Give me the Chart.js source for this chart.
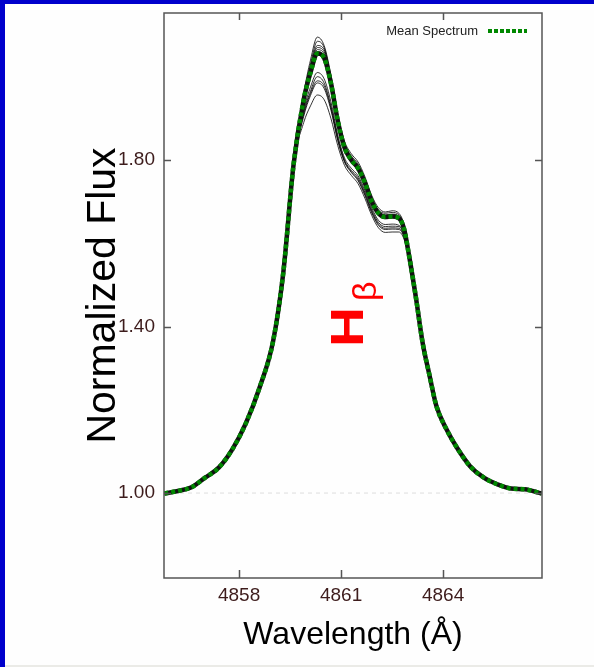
<!DOCTYPE html>
<html>
<head>
<meta charset="utf-8">
<title>H-beta line profile</title>
<script src="https://cdn.jsdelivr.net/npm/chart.js@4.4.1/dist/chart.umd.min.js"></script>
<style>
    body { margin: 0; background: #fefefe; }
    #wrap { position: relative; width: 594px; height: 667px; overflow: hidden; }
    #fluxChart { position: absolute; left: 0; top: 0; }
    .bar-left { position: absolute; left: 0; top: 0; width: 5px; height: 667px; background: #0000cc; }
    .bar-top { position: absolute; left: 0; top: 0; width: 594px; height: 4px; background: #0000cc; }
    .bar-bottom { position: absolute; left: 5px; bottom: 0; width: 589px; height: 2px; background: #ebebe7; }
</style>
</head>
<body>
<div id="wrap">
    <canvas id="fluxChart" width="594" height="667"></canvas>
    <div class="bar-left"></div>
    <div class="bar-top"></div>
    <div class="bar-bottom"></div>
</div>
<script>
// wavelength grid (Angstrom)
const wavelength = [4855.8, 4856.2, 4856.6, 4857.0, 4857.4, 4857.8, 4858.2, 4858.6, 4859.0, 4859.3, 4859.6,
    4859.9, 4860.1, 4860.3, 4860.5, 4860.7, 4860.9, 4861.1, 4861.3, 4861.5, 4861.7, 4861.9, 4862.1, 4862.3,
    4862.5, 4862.7, 4862.85, 4863.0,
    4863.2, 4863.4, 4863.6, 4863.8, 4864.1, 4864.4, 4864.8, 4865.2, 4865.6, 4866.0, 4866.4, 4866.9];

// wings are the same for every spectrum
const blueWing = [0.999, 1.005, 1.014, 1.037, 1.061, 1.105, 1.168, 1.253, 1.365, 1.53, 1.788];
const redWing = [1.47, 1.36, 1.283, 1.21, 1.153, 1.11, 1.064, 1.037, 1.021, 1.011, 1.009, 0.999];

// line core, 4859.9 - 4863.0
const meanCore = [1.945, 2.01, 2.056, 2.045, 1.985, 1.895, 1.83, 1.80, 1.78, 1.745, 1.70, 1.672, 1.663, 1.664, 1.66, 1.635, 1.57];
const spectraCores = [
    [1.96, 2.04, 2.095, 2.075, 2.005, 1.91, 1.845, 1.815, 1.795, 1.76, 1.715, 1.685, 1.675, 1.678, 1.672, 1.645, 1.575],
    [1.955, 2.03, 2.085, 2.07, 2.0, 1.905, 1.84, 1.81, 1.79, 1.755, 1.71, 1.68, 1.672, 1.674, 1.668, 1.642, 1.573],
    [1.955, 2.025, 2.075, 2.065, 1.995, 1.9, 1.835, 1.805, 1.785, 1.75, 1.705, 1.677, 1.668, 1.67, 1.665, 1.64, 1.572],
    [1.95, 2.02, 2.07, 2.06, 1.99, 1.898, 1.833, 1.803, 1.783, 1.748, 1.703, 1.675, 1.666, 1.668, 1.664, 1.638, 1.571],
    [1.95, 2.015, 2.065, 2.055, 1.99, 1.9, 1.835, 1.805, 1.785, 1.75, 1.705, 1.676, 1.667, 1.668, 1.663, 1.637, 1.57],
    [1.945, 2.01, 2.06, 2.05, 1.985, 1.895, 1.83, 1.8, 1.78, 1.745, 1.7, 1.672, 1.663, 1.665, 1.66, 1.635, 1.57],
    [1.945, 2.005, 2.055, 2.045, 1.98, 1.89, 1.827, 1.797, 1.778, 1.742, 1.698, 1.67, 1.66, 1.662, 1.658, 1.633, 1.569],
    [1.92, 1.975, 2.01, 1.995, 1.94, 1.86, 1.805, 1.78, 1.762, 1.727, 1.685, 1.655, 1.645, 1.646, 1.643, 1.622, 1.565],
    [1.915, 1.965, 2.0, 1.985, 1.93, 1.855, 1.8, 1.775, 1.757, 1.722, 1.68, 1.65, 1.64, 1.641, 1.64, 1.62, 1.563],
    [1.91, 1.96, 1.99, 1.978, 1.925, 1.85, 1.797, 1.772, 1.753, 1.718, 1.676, 1.646, 1.636, 1.637, 1.636, 1.617, 1.562],
    [1.905, 1.955, 1.985, 1.972, 1.92, 1.847, 1.795, 1.77, 1.75, 1.715, 1.673, 1.643, 1.633, 1.634, 1.633, 1.615, 1.561],
    [1.89, 1.93, 1.956, 1.945, 1.9, 1.835, 1.787, 1.763, 1.743, 1.708, 1.667, 1.637, 1.626, 1.627, 1.627, 1.61, 1.56]
];

const xTicks = [4858, 4861, 4864];
const yTicks = [1.00, 1.40, 1.80];
const xRange = [4855.79, 4866.91];
const yRange = [0.796, 2.153];
const continuumLevel = 1.00;

// label position in data units (baseline of the rotated "H")
const lineLabel = { text: 'H', sub: '\u03B2', x: 4861.65, y: 1.351 };

const tickColor = '#3d1c1c';
const fontFamily = "'Liberation Sans', Arial, sans-serif";

function toPoints(flux) {
    return wavelength.map((w, i) => ({ x: w, y: flux[i] }));
}

const meanFlux = blueWing.concat(meanCore, redWing);

const datasets = [];
datasets.push({
    label: 'Mean Spectrum',
    data: toPoints(meanFlux),
    borderColor: '#008800',
    borderWidth: 4.5,
    borderDash: [4, 3],
    order: 0
});
// dark backing under the dotted mean
datasets.push({
    label: 'backing',
    data: toPoints(meanFlux),
    borderColor: '#111',
    borderWidth: 4.5,
    order: 1
});
spectraCores.forEach((core, i) => {
    datasets.push({
        label: 'spectrum ' + (i + 1),
        data: toPoints(blueWing.concat(core, redWing)),
        borderColor: 'rgba(0, 0, 0, 0.8)',
        borderWidth: 1,
        order: 2
    });
});
datasets.push({
    label: 'continuum',
    data: [{ x: xRange[0], y: continuumLevel }, { x: xRange[1], y: continuumLevel }],
    borderColor: '#dddddd',
    borderWidth: 1,
    borderDash: [4, 4],
    cubicInterpolationMode: 'default',
    order: 3
});

const frameAndTicks = {
    id: 'frameAndTicks',
    afterDatasetsDraw(chart) {
        const { ctx, chartArea: a, scales: { x, y } } = chart;
        ctx.save();
        ctx.strokeStyle = '#555';
        ctx.lineWidth = 1.5;
        ctx.strokeRect(a.left, a.top, a.width, a.height);
        ctx.beginPath();
        xTicks.forEach(v => {
            const px = Math.round(x.getPixelForValue(v)) + 0.5;
            ctx.moveTo(px, a.top); ctx.lineTo(px, a.top + 7);
            ctx.moveTo(px, a.bottom); ctx.lineTo(px, a.bottom - 8);
        });
        yTicks.forEach(v => {
            const py = Math.round(y.getPixelForValue(v)) + 0.5;
            ctx.moveTo(a.left, py); ctx.lineTo(a.left + 7, py);
            ctx.moveTo(a.right, py); ctx.lineTo(a.right - 7, py);
        });
        ctx.stroke();
        ctx.restore();
    }
};

const labelsPlugin = {
    id: 'labelsPlugin',
    afterDraw(chart) {
        const { ctx, chartArea: a, scales: { x, y } } = chart;
        ctx.save();
        // H-beta, rotated
        ctx.translate(x.getPixelForValue(lineLabel.x), y.getPixelForValue(lineLabel.y));
        ctx.rotate(-Math.PI / 2);
        ctx.fillStyle = '#ff0000';
        ctx.textBaseline = 'alphabetic';
        ctx.textAlign = 'left';
        ctx.save();
        ctx.scale(1.2, 1);
        ctx.font = 'bold 46px ' + fontFamily;
        ctx.fillText(lineLabel.text, 0, 0);
        ctx.restore();
        ctx.font = '34px ' + fontFamily;
        ctx.fillText(lineLabel.sub, 46, 13);
        ctx.restore();

        // legend, inside the top right corner
        const ds = chart.data.datasets[0];
        ctx.save();
        ctx.font = '13px ' + fontFamily;
        ctx.fillStyle = '#222';
        ctx.textAlign = 'right';
        ctx.textBaseline = 'middle';
        ctx.fillText(ds.label, a.right - 64, a.top + 18);
        ctx.strokeStyle = ds.borderColor;
        ctx.lineWidth = 4;
        ctx.setLineDash([4, 2]);
        ctx.beginPath();
        ctx.moveTo(a.right - 54, a.top + 18);
        ctx.lineTo(a.right - 15, a.top + 18);
        ctx.stroke();
        ctx.restore();
    }
};

Chart.defaults.font.family = fontFamily;

new Chart(document.getElementById('fluxChart').getContext('2d'), {
    type: 'line',
    data: { datasets: datasets },
    options: {
        responsive: false,
        animation: false,
        events: [],
        layout: { padding: { left: 0, right: 52, top: 13, bottom: 0 } },
        elements: {
            point: { radius: 0 },
            line: { cubicInterpolationMode: 'monotone', fill: false }
        },
        plugins: { legend: { display: false }, tooltip: { enabled: false } },
        scales: {
            x: {
                type: 'linear',
                min: xRange[0],
                max: xRange[1],
                afterBuildTicks: s => { s.ticks = xTicks.map(v => ({ value: v })); },
                afterFit: s => { s.height = 89; },
                grid: { display: false, drawTicks: false },
                border: { display: false },
                ticks: {
                    padding: 6,
                    color: tickColor,
                    font: { size: 19 },
                    callback: v => String(v)
                },
                title: {
                    display: true,
                    text: 'Wavelength (\u00C5)',
                    color: '#000',
                    font: { size: 32 },
                    padding: { top: 0, bottom: 13 }
                }
            },
            y: {
                type: 'linear',
                min: yRange[0],
                max: yRange[1],
                afterBuildTicks: s => { s.ticks = yTicks.map(v => ({ value: v })); },
                afterFit: s => { s.width = 164; s.paddingTop = 0; s.paddingBottom = 0; },
                grid: { display: false, drawTicks: false },
                border: { display: false },
                ticks: {
                    padding: 9,
                    color: tickColor,
                    font: { size: 19 },
                    callback: v => v.toFixed(2)
                },
                title: {
                    display: true,
                    text: 'Normalized Flux',
                    color: '#000',
                    font: { size: 41 },
                    padding: { top: 79, bottom: 0 }
                }
            }
        }
    },
    plugins: [frameAndTicks, labelsPlugin]
});
</script>
</body>
</html>
